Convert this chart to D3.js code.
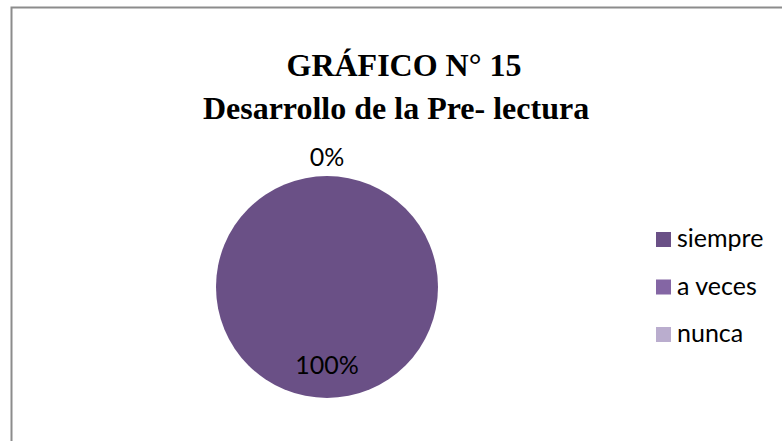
<!DOCTYPE html>
<html>
<head>
<meta charset="utf-8">
<script src="https://cdn.jsdelivr.net/npm/d3@7"></script>
<style>
  body { margin: 0; background: #fff; }
  .title { font-family: "Liberation Serif", "Times New Roman", serif; font-weight: bold; font-size: 32px; }
  .lbl { font-family: Lato, "Open Sans", sans-serif; font-size: 25px; fill: #000; }
</style>
</head>
<body>
<div class="chart"></div>
<script>
// chart data
var categories = ["siempre", "a veces", "nunca"];
var values = [100, 0, 0];
var colors = ["#6a5086", "#8466a4", "#baadce"];
var titleLines = ["GRÁFICO N° 15", "Desarrollo de la Pre- lectura"];

var svgWidth = 782, svgHeight = 441;

var svg = d3.select(".chart")
  .append("svg")
  .attr("width", svgWidth)
  .attr("height", svgHeight);

// outer frame (right/bottom edges fall outside the picture)
svg.append("rect")
  .attr("x", 11.5)
  .attr("y", 7.5)
  .attr("width", 820)
  .attr("height", 500)
  .attr("fill", "none")
  .attr("stroke", "#8c8c8c")
  .attr("stroke-width", 2);

// title (first line sits a little right of the second, as in the original)
svg.selectAll("text.title")
  .data(titleLines)
  .enter()
  .append("text")
  .attr("class", "title")
  .attr("x", (d, i) => i === 0 ? 404 : 396)
  .attr("y", (d, i) => 76 + i * 43)
  .attr("text-anchor", "middle")
  .text(d => d);

var cx = 327, cy = 287, radius = 111;
var total = d3.sum(values);

var pie = d3.pie().sort(null).value(d => d);
var arc = d3.arc().innerRadius(0).outerRadius(radius);

var pieGroup = svg.append("g")
  .attr("transform", `translate(${cx}, ${cy})`);

var slices = pie(values);

pieGroup.selectAll("path")
  .data(slices)
  .enter()
  .append("path")
  .attr("d", arc)
  .attr("fill", (d, i) => colors[i]);

// data labels: the full slice label sits inside near the bottom,
// the empty slices share one label above the pie
var labels = [];
slices.forEach(function(s, i) {
  var pct = Math.round(s.value / total * 100) + "%";
  if (s.value > 0) {
    var a = (s.startAngle + s.endAngle) / 2;
    labels.push({ text: pct, x: Math.sin(a) * radius * 0.7, y: -Math.cos(a) * radius * 0.7 + 9 });
  } else if (!labels.some(l => l.text === pct)) {
    labels.push({ text: pct, x: 0, y: -radius - 10 });
  }
});

pieGroup.selectAll("text.lbl")
  .data(labels)
  .enter()
  .append("text")
  .attr("class", "lbl")
  .attr("x", d => d.x)
  .attr("y", d => d.y)
  .attr("text-anchor", "middle")
  .text(d => d.text);

// legend
var legendY = d3.scalePoint()
  .domain(categories)
  .range([232, 327]);

var legend = svg.append("g");

legend.selectAll("rect")
  .data(categories)
  .enter()
  .append("rect")
  .attr("x", 656)
  .attr("y", d => legendY(d))
  .attr("width", 15)
  .attr("height", 15)
  .attr("fill", (d, i) => colors[i]);

legend.selectAll("text")
  .data(categories)
  .enter()
  .append("text")
  .attr("class", "lbl")
  .attr("x", 677)
  .attr("y", d => legendY(d) + 15)
  .text(d => d);
</script>
</body>
</html>
